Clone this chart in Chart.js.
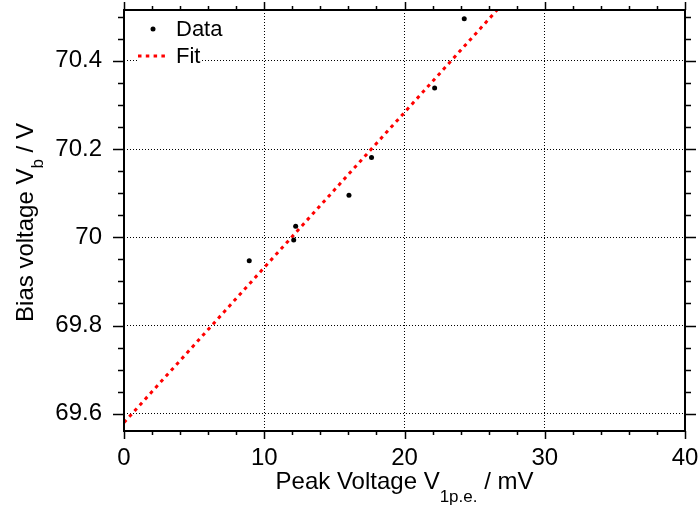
<!DOCTYPE html>
<html>
<head>
<meta charset="utf-8">
<script src="https://cdn.jsdelivr.net/npm/chart.js@4.4.0/dist/chart.umd.min.js"></script>
<style>
    html, body { margin: 0; padding: 0; background: #fff; }
</style>
</head>
<body>
<canvas id="myChart" width="698" height="508"></canvas>
<script>
// values
var peakVoltage = [8.93, 12.10, 12.24, 16.04, 17.65, 22.15, 24.26];
var biasVoltage = [69.947, 69.994, 70.025, 70.095, 70.181, 70.338, 70.495];
var fitX = [0, 27];
var fitY = [69.58, 70.529];
var xTicks = [0, 10, 20, 30, 40];
var xTickLabels = ['0', '10', '20', '30', '40'];
var yTicks = [69.6, 69.8, 70, 70.2, 70.4];
var yTickLabels = ['69.6', '69.8', '70', '70.2', '70.4'];
var xRange = [0, 40];
var yRange = [69.561, 70.515];

var fontFam = "'Liberation Sans', Arial, sans-serif";
Chart.defaults.font.family = fontFam;

function drawParts(ctx, parts, cx, cy) {
    var total = 0;
    parts.forEach(function(p) {
        ctx.font = p.size + 'px ' + fontFam;
        p.w = ctx.measureText(p.t).width;
        total += p.w;
    });
    var x = cx - total / 2;
    parts.forEach(function(p) {
        ctx.font = p.size + 'px ' + fontFam;
        ctx.fillText(p.t, x, cy + p.dy);
        x += p.w;
    });
}

// keep the plot box where the reference has it
function noPad(s) {
    s.paddingTop = 0;
    s.paddingBottom = 0;
    s.paddingLeft = 0;
    s.paddingRight = 0;
}

var framePlugin = {
    id: 'frame',
    afterDraw: function(chart) {
        var ctx = chart.ctx;
        var a = chart.chartArea;
        var sx = chart.scales.x;
        var sy = chart.scales.y;
        ctx.save();
        ctx.strokeStyle = '#000';
        ctx.fillStyle = '#000';

        // ticks, all pointing outward
        ctx.lineWidth = 1.5;
        ctx.beginPath();
        for (var k = 0; k <= 20; k++) {
            var v = xRange[0] + k * 2;
            var px = Math.round(sx.getPixelForValue(v)) + 0.5;
            var len = (v % 10 === 0) ? 8 : 4;
            ctx.moveTo(px, a.bottom); ctx.lineTo(px, a.bottom + len);
            ctx.moveTo(px, a.top); ctx.lineTo(px, a.top - len);
        }
        for (var j = 0; j <= 20; j++) {
            var yv = Math.round((69.6 + j * 0.05) * 100) / 100;
            if (yv > yRange[1]) break;
            var py = Math.round(sy.getPixelForValue(yv)) + 0.5;
            var ylen = (Math.round(yv * 100) % 20 === 0) ? 11 : 6;
            ctx.moveTo(a.left, py); ctx.lineTo(a.left - ylen, py);
            ctx.moveTo(a.right, py); ctx.lineTo(a.right + ylen, py);
        }
        ctx.stroke();

        // frame
        ctx.lineWidth = 2;
        ctx.strokeRect(a.left, a.top, a.right - a.left, a.bottom - a.top);

        // legend
        ctx.fillStyle = '#fff';
        ctx.fillRect(137, 44, 63, 24);
        ctx.fillStyle = '#000';
        ctx.beginPath();
        ctx.arc(153, 29, 2.5, 0, Math.PI * 2);
        ctx.fill();
        ctx.strokeStyle = '#ff0000';
        ctx.lineWidth = 3;
        ctx.setLineDash([3.5, 4.3]);
        ctx.beginPath();
        ctx.moveTo(138, 56); ctx.lineTo(168, 56);
        ctx.stroke();
        ctx.setLineDash([]);
        ctx.font = '22px ' + fontFam;
        ctx.textBaseline = 'alphabetic';
        ctx.fillText('Data', 176, 36);
        ctx.fillText('Fit', 176, 63);

        // axis titles
        var cx = (a.left + a.right) / 2;
        drawParts(ctx, [
            {t: 'Peak Voltage V', size: 24, dy: 0},
            {t: '1p.e.', size: 17, dy: 13},
            {t: ' / mV', size: 24, dy: 0}
        ], cx, 489);

        ctx.translate(33, (a.top + a.bottom) / 2 + 2);
        ctx.rotate(-Math.PI / 2);
        drawParts(ctx, [
            {t: 'Bias voltage V', size: 24, dy: 0},
            {t: 'b', size: 17, dy: 10},
            {t: ' / V', size: 24, dy: 0}
        ], 0, 0);
        ctx.restore();
    }
};

var ctx = document.getElementById('myChart');
var myChart = new Chart(ctx, {
    type: 'scatter',
    data: {
        datasets: [{
            label: 'Data',
            data: peakVoltage.map((v, i) => ({ x: v, y: biasVoltage[i] })),
            backgroundColor: '#000',
            borderWidth: 0,
            pointRadius: 2.5,
            pointHoverRadius: 2.5
        }, {
            label: 'Fit',
            data: fitX.map((v, i) => ({ x: v, y: fitY[i] })),
            showLine: true,
            borderColor: '#ff0000',
            borderWidth: 3,
            borderDash: [3.5, 4.3],
            pointRadius: 0,
            clip: 0
        }]
    },
    options: {
        responsive: false,
        animation: false,
        events: [],
        layout: { padding: { left: 0, top: 10, right: 13, bottom: 0 } },
        plugins: {
            legend: { display: false },
            title: { display: false },
            tooltip: { enabled: false }
        },
        scales: {
            x: {
                type: 'linear',
                min: xRange[0],
                max: xRange[1],
                afterBuildTicks: function(s) { s.ticks = xTicks.map(v => ({ value: v })); },
                afterFit: function(s) { s.height = 77; noPad(s); },
                ticks: {
                    callback: function(v, i) { return xTickLabels[i]; },
                    font: { size: 24 },
                    color: '#000',
                    padding: 13,
                    maxRotation: 0,
                    autoSkip: false
                },
                grid: { color: '#000', lineWidth: 1, drawTicks: false },
                border: { display: false, dash: [1, 2] }
            },
            y: {
                type: 'linear',
                min: yRange[0],
                max: yRange[1],
                afterBuildTicks: function(s) { s.ticks = yTicks.map(v => ({ value: v })); },
                afterFit: function(s) { s.width = 124; noPad(s); },
                ticks: {
                    callback: function(v, i) { return yTickLabels[i]; },
                    font: { size: 24 },
                    color: '#000',
                    padding: 22,
                    autoSkip: false
                },
                grid: { color: '#000', lineWidth: 1, drawTicks: false },
                border: { display: false, dash: [1, 2] }
            }
        }
    },
    plugins: [framePlugin]
});
</script>
</body>
</html>
